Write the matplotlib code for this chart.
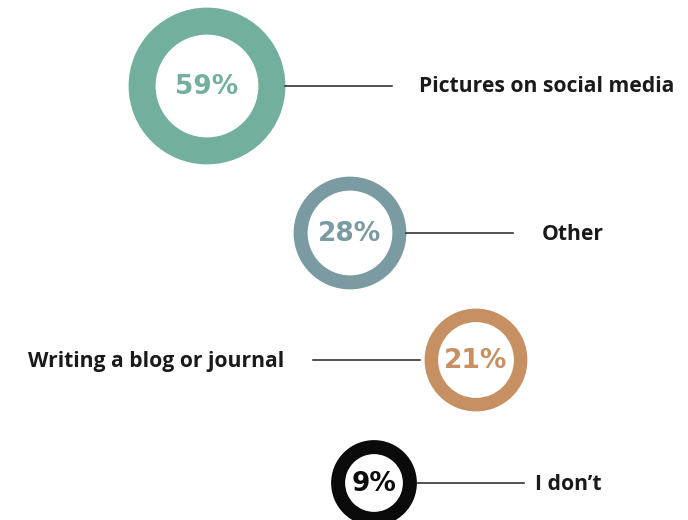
import matplotlib.pyplot as plt
from matplotlib.patches import Wedge

# survey answers, biggest first
labels = ["Pictures on social media", "Other", "Writing a blog or journal", "I don\u2019t"]
values = [59, 28, 21, 9]
colors = ["#72AF9F", "#7A9BA1", "#C69063", "#0A0A0A"]

# layout in pixel units (y grows downwards)
centers = [(207, 86), (350, 233), (476, 360), (374, 483)]
ring_w = [27, 14, 13.5, 14]
sides = ["right", "right", "left", "right"]
label_gap = [27, 28, 28, 11]
line_len = 107


def radius(v):
    # bubble grows with the share, with a floor so small ones stay readable
    return 36.5 + 0.71 * v


fig = plt.figure(figsize=(6.88, 5.2), dpi=100)
ax = fig.add_axes([0, 0, 1, 1])
ax.set_xlim(0, 688)
ax.set_ylim(520, 0)
ax.set_aspect("equal")
ax.axis("off")

for lab, v, c, (cx, cy), w, side, gap in zip(labels, values, colors, centers,
                                             ring_w, sides, label_gap):
    r = radius(v)
    ax.add_patch(Wedge((cx, cy), r, 0, 360, width=w, facecolor=c, edgecolor="none"))
    ax.text(cx, cy + 1, f"{v}%", ha="center", va="center", color=c,
            fontsize=19, fontweight="heavy", family="DejaVu Sans")
    if side == "right":
        x0 = cx + r
        x1 = x0 + line_len
        ax.plot([x0, x1], [cy, cy], color="#222222", lw=1.1)
        ax.text(x1 + gap, cy + 1, lab, ha="left", va="center", fontsize=15.2,
                fontweight="bold", family="Open Sans", color="#1a1a1a")
    else:
        x1 = cx - r - 5
        x0 = x1 - line_len
        ax.plot([x0, x1], [cy, cy], color="#222222", lw=1.1)
        ax.text(x0 - gap, cy + 1, lab, ha="right", va="center", fontsize=15.2,
                fontweight="bold", family="Open Sans", color="#1a1a1a")

fig.savefig("out.png", dpi=100)
